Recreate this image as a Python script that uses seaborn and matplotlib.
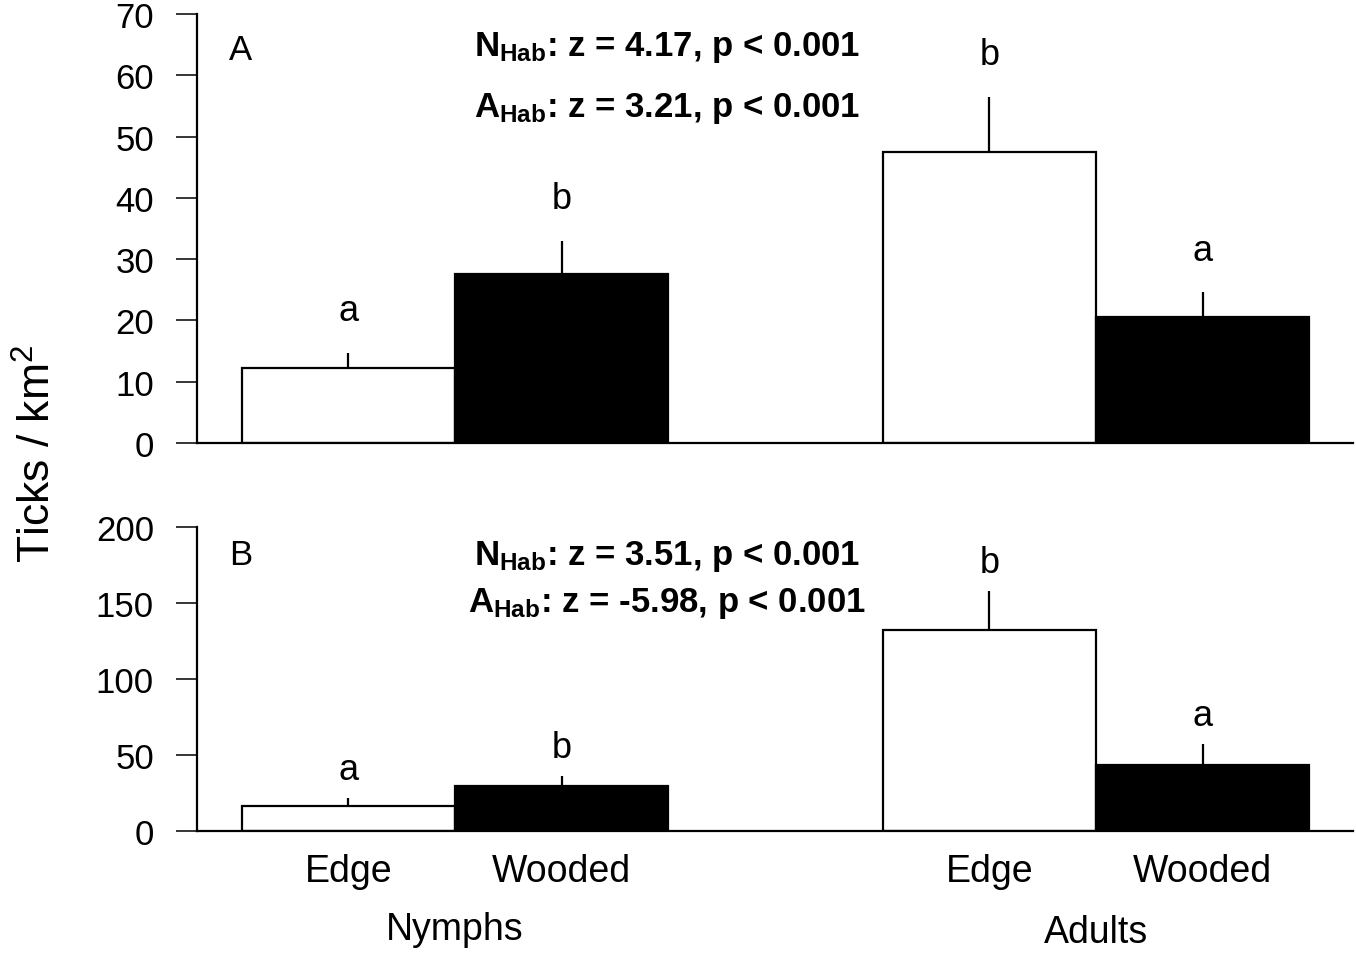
import numpy as np
import pandas as pd
import matplotlib
matplotlib.use("Agg")
import matplotlib.pyplot as plt
import seaborn as sns

# Datos (orden: Ninfas Borde, Ninfas Bosque, Adultos Borde, Adultos Bosque)
estadios = ["Nymphs", "Nymphs", "Adults", "Adults"]
habitats = ["Edge", "Wooded", "Edge", "Wooded"]

media_a = [12.2, 27.5, 47.4, 20.5]
error_a = [2.5, 5.5, 9.1, 4.1]
letras_a = ["a", "b", "b", "a"]

media_b = [16.4, 29.6, 132.0, 43.4]
error_b = [5.3, 6.6, 26.0, 13.8]
letras_b = ["a", "b", "b", "a"]

stats_a = [r"$\mathbf{N_{Hab}}$: z = 4.17, p < 0.001", r"$\mathbf{A_{Hab}}$: z = 3.21, p < 0.001"]
stats_b = [r"$\mathbf{N_{Hab}}$: z = 3.51, p < 0.001", r"$\mathbf{A_{Hab}}$: z = -5.98, p < 0.001"]

sns.set_style("ticks")
plt.rcParams["font.family"] = ["Liberation Sans", "DejaVu Sans"]
plt.rcParams["mathtext.fontset"] = "custom"
plt.rcParams["mathtext.rm"] = "Liberation Sans"
plt.rcParams["mathtext.bf"] = "Liberation Sans:bold"
plt.rcParams["mathtext.it"] = "Liberation Sans:italic"
for clave in ["text.color", "axes.labelcolor", "xtick.color", "ytick.color", "axes.edgecolor"]:
    plt.rcParams[clave] = "black"

fig = plt.figure(figsize=(13.56, 9.54), dpi=100)
ax1 = fig.add_axes([0.1453, 0.5346, 0.8525, 0.4497])
ax2 = fig.add_axes([0.1453, 0.1279, 0.8525, 0.3187])


def panel(ax, medias, errores, letras, stats, ymax, paso, desplaz, etiqueta, y_stats, y_letra):
    df = pd.DataFrame({"stage": estadios, "habitat": habitats, "value": medias})
    sns.barplot(data=df, x="stage", y="value", hue="habitat",
                order=["Nymphs", "Adults"], hue_order=["Edge", "Wooded"],
                palette={"Edge": "white", "Wooded": "black"},
                edgecolor="black", linewidth=1.6, width=0.665,
                errorbar=None, legend=False, ax=ax)
    barras = sorted([p for p in ax.patches if p.get_height() > 0],
                    key=lambda p: p.get_x())
    xs = [p.get_x() + p.get_width() / 2 for p in barras]
    ax.errorbar(xs, medias, yerr=[np.zeros(len(medias)), errores],
                fmt="none", ecolor="black", elinewidth=1.6, capsize=0)
    for x, m, e, l in zip(xs, medias, errores, letras):
        ax.text(x, m + e + desplaz, l, ha="center", va="baseline", fontsize=26)

    ax.set_xlim(-0.4025, 1.401)
    ax.set_ylim(0, ymax)
    ax.set_yticks(np.arange(0, ymax + 1, paso))
    ax.set_xlabel("")
    ax.set_ylabel("")
    sns.despine(ax=ax)
    for s in ["left", "bottom"]:
        ax.spines[s].set_linewidth(1.6)
    ax.tick_params(axis="y", length=15, width=1.1, pad=16, labelsize=25)
    ax.text(0.038, y_letra, etiqueta, transform=ax.transAxes, ha="center",
            va="baseline", fontsize=25)
    for t, y in zip(stats, y_stats):
        ax.text(0.4066, y, t, transform=ax.transAxes, ha="center", va="baseline",
                fontsize=25, fontweight="bold")
    return xs


panel(ax1, media_a, error_a, letras_a, stats_a, 70, 10, 5.3, "A", [0.904, 0.762], 0.895)
xs = panel(ax2, media_b, error_b, letras_b, stats_b, 200, 50, 12.5, "B", [0.878, 0.724], 0.878)

ax1.set_xticks([])
ax2.set_xticks(xs)
ax2.set_xticklabels(habitats, fontsize=27)
ax2.tick_params(axis="x", length=0, pad=16)
ax2.text(0, -0.322, "Nymphs", transform=ax2.get_xaxis_transform(), ha="center",
         va="center", fontsize=27)
ax2.text(1, -0.332, "Adults", transform=ax2.get_xaxis_transform(), ha="center",
         va="center", fontsize=27)

fig.text(0.028, 0.524, r"Ticks / km$^2$", rotation=90, ha="center", va="center",
         fontsize=32)

fig.savefig("out.png", dpi=100, facecolor="white")
